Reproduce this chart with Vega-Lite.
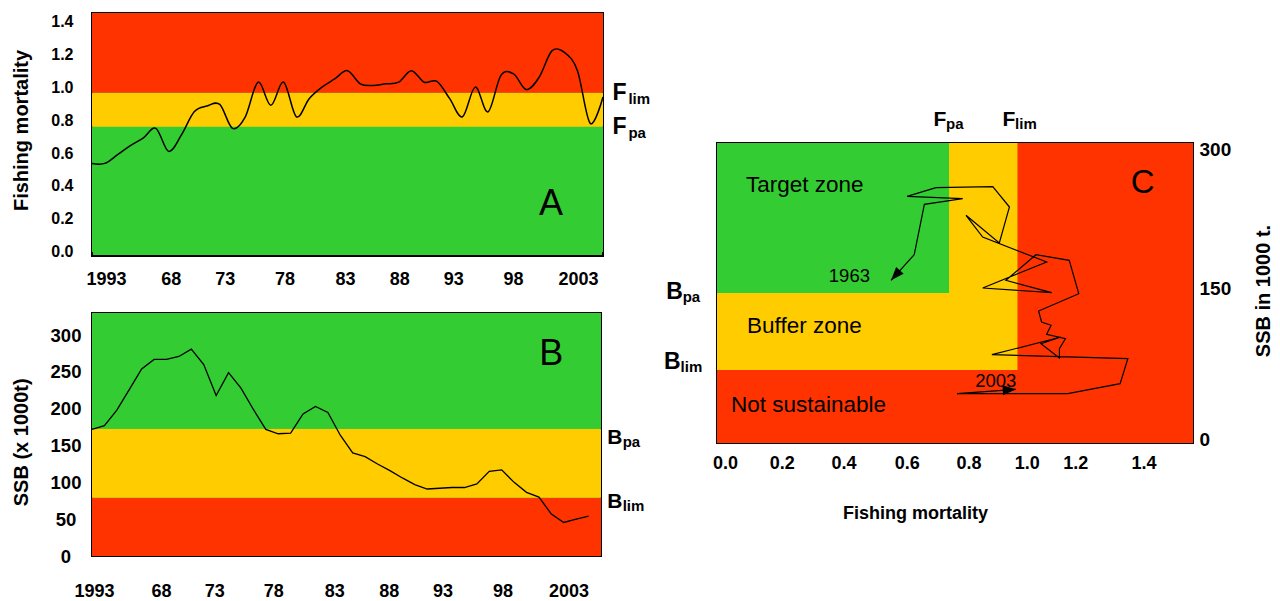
{
  "$schema": "https://vega.github.io/schema/vega-lite/v6.json",
  "padding": {"left": 10, "top": 12, "right": 5, "bottom": 5},
  "background": "white",
  "config": {
    "font": "Liberation Sans",
    "view": {"stroke": null},
    "axis": {"labelFont": "Liberation Sans", "labelFontWeight": "bold", "labelColor": "#000", "titleFont": "Liberation Sans", "titleFontWeight": "bold", "titleColor": "#000", "ticks": false, "tickSize": 0, "domain": false, "grid": false, "labelFlush": false, "labelOverlap": false, "labelSeparation": 0},
    "text": {"font": "Liberation Sans", "color": "#000"}
  },
  "datasets": {
    "fmort": [
      {"year": 1963, "F": 0.537}, {"year": 1964, "F": 0.537}, {"year": 1965, "F": 0.59}, {"year": 1966, "F": 0.645},
      {"year": 1967, "F": 0.69}, {"year": 1968, "F": 0.75}, {"year": 1969, "F": 0.61}, {"year": 1970, "F": 0.71},
      {"year": 1971, "F": 0.85}, {"year": 1972, "F": 0.885}, {"year": 1973, "F": 0.895}, {"year": 1974, "F": 0.75},
      {"year": 1975, "F": 0.82}, {"year": 1976, "F": 1.03}, {"year": 1977, "F": 0.89}, {"year": 1978, "F": 1.03},
      {"year": 1979, "F": 0.82}, {"year": 1980, "F": 0.93}, {"year": 1981, "F": 1.0}, {"year": 1982, "F": 1.05},
      {"year": 1983, "F": 1.1}, {"year": 1984, "F": 1.02}, {"year": 1985, "F": 1.01}, {"year": 1986, "F": 1.02},
      {"year": 1987, "F": 1.03}, {"year": 1988, "F": 1.1}, {"year": 1989, "F": 1.03}, {"year": 1990, "F": 1.035},
      {"year": 1991, "F": 0.93}, {"year": 1992, "F": 0.82}, {"year": 1993, "F": 1.0}, {"year": 1994, "F": 0.85},
      {"year": 1995, "F": 1.07}, {"year": 1996, "F": 1.08}, {"year": 1997, "F": 0.985}, {"year": 1998, "F": 1.06},
      {"year": 1999, "F": 1.22}, {"year": 2000, "F": 1.21}, {"year": 2001, "F": 1.1}, {"year": 2002, "F": 0.78},
      {"year": 2003, "F": 0.94}
    ],
    "ssb": [
      {"year": 1963, "SSB": 172}, {"year": 1964, "SSB": 177}, {"year": 1965, "SSB": 198}, {"year": 1966, "SSB": 226},
      {"year": 1967, "SSB": 254}, {"year": 1968, "SSB": 267}, {"year": 1969, "SSB": 267}, {"year": 1970, "SSB": 271},
      {"year": 1971, "SSB": 281}, {"year": 1972, "SSB": 260}, {"year": 1973, "SSB": 218}, {"year": 1974, "SSB": 249},
      {"year": 1975, "SSB": 228}, {"year": 1976, "SSB": 199}, {"year": 1977, "SSB": 172}, {"year": 1978, "SSB": 166},
      {"year": 1979, "SSB": 167}, {"year": 1980, "SSB": 193}, {"year": 1981, "SSB": 203}, {"year": 1982, "SSB": 195},
      {"year": 1983, "SSB": 164}, {"year": 1984, "SSB": 140}, {"year": 1985, "SSB": 135}, {"year": 1986, "SSB": 125},
      {"year": 1987, "SSB": 116}, {"year": 1988, "SSB": 106}, {"year": 1989, "SSB": 97}, {"year": 1990, "SSB": 91},
      {"year": 1991, "SSB": 92}, {"year": 1992, "SSB": 93}, {"year": 1993, "SSB": 93}, {"year": 1994, "SSB": 98},
      {"year": 1995, "SSB": 115}, {"year": 1996, "SSB": 117}, {"year": 1997, "SSB": 100}, {"year": 1998, "SSB": 86.5},
      {"year": 1999, "SSB": 80}, {"year": 2000, "SSB": 57}, {"year": 2001, "SSB": 45.5}, {"year": 2002, "SSB": 50},
      {"year": 2003, "SSB": 54}
    ],
    "zonesA": [
      {"zone": "Target zone", "lo": 0, "hi": 0.76},
      {"zone": "Buffer zone", "lo": 0.76, "hi": 0.966},
      {"zone": "Not sustainable", "lo": 0.966, "hi": 1.45}
    ],
    "zonesB": [
      {"zone": "Not sustainable", "lo": 0, "hi": 79},
      {"zone": "Buffer zone", "lo": 79, "hi": 172.8},
      {"zone": "Target zone", "lo": 172.8, "hi": 330}
    ],
    "zonesC": [
      {"zone": "Not sustainable", "f0": 0, "f1": 1.6, "b0": 0, "b1": 300},
      {"zone": "Buffer zone", "f0": 0, "f1": 1.01, "b0": 73, "b1": 300},
      {"zone": "Target zone", "f0": 0, "f1": 0.78, "b0": 150, "b1": 300}
    ],
    "refsA": [
      {"main": "F", "sub": "lim", "year": 2003.74, "F": 0.92},
      {"main": "F", "sub": "pa", "year": 2003.74, "F": 0.7135}
    ],
    "refsB": [
      {"main": "B", "sub": "pa", "year": 2004.5, "SSB": 152},
      {"main": "B", "sub": "lim", "year": 2004.5, "SSB": 65.6}
    ],
    "refsCtop": [
      {"main": "F", "sub": "pa", "F": 0.728, "SSB": 317},
      {"main": "F", "sub": "lim", "F": 0.96, "SSB": 317}
    ],
    "refsCleft": [
      {"main": "B", "sub": "pa", "F": -0.171, "SSB": 144.3},
      {"main": "B", "sub": "lim", "F": -0.178, "SSB": 73.7}
    ],
    "path": [
      {"i": 1, "F": 0.663, "SSB": 188.3}, {"i": 2, "F": 0.697, "SSB": 238.7}, {"i": 3, "F": 0.826, "SSB": 244.3},
      {"i": 4, "F": 0.639, "SSB": 246.7}, {"i": 5, "F": 0.736, "SSB": 255.3}, {"i": 6, "F": 0.927, "SSB": 256.3},
      {"i": 7, "F": 0.983, "SSB": 236}, {"i": 8, "F": 0.949, "SSB": 200}, {"i": 9, "F": 0.837, "SSB": 227.7},
      {"i": 10, "F": 0.893, "SSB": 206}, {"i": 11, "F": 1.108, "SSB": 181}, {"i": 12, "F": 0.893, "SSB": 155},
      {"i": 13, "F": 1.125, "SSB": 150.3}, {"i": 14, "F": 0.971, "SSB": 162.7}, {"i": 15, "F": 1.072, "SSB": 188.3},
      {"i": 16, "F": 1.184, "SSB": 182.7}, {"i": 17, "F": 1.216, "SSB": 149.3}, {"i": 18, "F": 1.081, "SSB": 132},
      {"i": 19, "F": 1.091, "SSB": 121}, {"i": 20, "F": 1.123, "SSB": 117.7}, {"i": 21, "F": 1.108, "SSB": 108.7},
      {"i": 22, "F": 1.171, "SSB": 104.3}, {"i": 23, "F": 1.151, "SSB": 94.3}, {"i": 24, "F": 1.151, "SSB": 85},
      {"i": 25, "F": 1.089, "SSB": 99.3}, {"i": 26, "F": 1.156, "SSB": 106}, {"i": 27, "F": 0.924, "SSB": 88.3},
      {"i": 28, "F": 1.381, "SSB": 84.3}, {"i": 29, "F": 1.355, "SSB": 59.3}, {"i": 30, "F": 1.179, "SSB": 49.3},
      {"i": 31, "F": 0.807, "SSB": 49.3}
    ],
    "arrows": [
      {"label": "1963", "F": 0.663, "SSB": 188.3, "F2": 0.585, "SSB2": 162.7},
      {"label": "2003", "F": 0.807, "SSB": 49.3, "F2": 1.005, "SSB2": 53.7}
    ],
    "yearLabels": [
      {"text": "1963", "F": 0.445, "SSB": 167},
      {"text": "2003", "F": 0.937, "SSB": 62}
    ],
    "zoneLabels": [
      {"text": "Target zone", "F": 0.0975, "SSB": 257.7},
      {"text": "Buffer zone", "F": 0.101, "SSB": 117},
      {"text": "Not sustainable", "F": 0.047, "SSB": 37.7}
    ]
  },
  "spacing": 11,
  "hconcat": [
    {
      "spacing": 23,
      "vconcat": [
        {
          "width": 511,
          "height": 243,
          "view": {"fill": "#33CC33", "stroke": "#000", "strokeWidth": 2},
          "layer": [
            {
              "data": {"name": "zonesA"},
              "mark": {"type": "rect"},
              "encoding": {
                "y": {
                  "field": "lo", "type": "quantitative", "scale": {"domain": [-0.025, 1.45], "nice": false}, "title": "Fishing mortality",
                  "axis": {
                    "values": [0, 0.2, 0.4, 0.6, 0.8, 1.0, 1.2, 1.4], "tickCount": 10, "format": ".1f",
                    "labelFontSize": 16, "labelPadding": 19,
                    "titleFontSize": 20, "titleX": -71, "titleY": 117, "titleBaseline": "middle", "titleAngle": 270
                  }
                },
                "y2": {"field": "hi"},
                "color": {"field": "zone", "type": "nominal", "scale": {"domain": ["Target zone", "Buffer zone", "Not sustainable"], "range": ["#33CC33", "#FFCC00", "#FF3300"]}, "legend": null}
              }
            },
            {
              "data": {"name": "fmort"},
              "mark": {"type": "line", "interpolate": "cardinal", "color": "#000", "strokeWidth": 1.5},
              "encoding": {
                "x": {
                  "field": "year", "type": "quantitative", "title": null,
                  "scale": {"domain": [1963, 2003], "nice": false},
                  "axis": {
                    "values": [1963, 1968, 1973, 1978, 1983, 1988, 1993, 1998, 2003], "tickCount": 12,
                    "labelExpr": "datum.value == 1963 ? '1993' : datum.value == 2003 ? '2003' : format(datum.value % 100, '02d')",
                    "labelFontSize": 18, "labelPadding": 14,
                    "labelOffset": {"condition": [
                      {"test": "datum.value == 1963", "value": 14},
                      {"test": "datum.value == 1968", "value": 15},
                      {"test": "datum.value == 1973", "value": 5},
                      {"test": "datum.value == 1978", "value": 1},
                      {"test": "datum.value == 1983", "value": -2.5},
                      {"test": "datum.value == 1988", "value": -12},
                      {"test": "datum.value == 1993", "value": -22},
                      {"test": "datum.value == 1998", "value": -26},
                      {"test": "datum.value == 2003", "value": -25}
                    ], "value": 0}
                  }
                },
                "y": {
                  "field": "F", "type": "quantitative", "title": "Fishing mortality", "scale": {"domain": [-0.025, 1.45], "nice": false},
                  "axis": {
                    "values": [0, 0.2, 0.4, 0.6, 0.8, 1.0, 1.2, 1.4], "tickCount": 10, "format": ".1f",
                    "labelFontSize": 16, "labelPadding": 19,
                    "titleFontSize": 20, "titleX": -71, "titleY": 117, "titleBaseline": "middle", "titleAngle": 270
                  }
                }
              }
            },
            {
              "data": {"values": [{"panel": "A", "year": 1998.93, "F": 0.288}]},
              "mark": {"type": "text", "fontSize": 36, "align": "center", "baseline": "middle"},
              "encoding": {
                "x": {"field": "year", "type": "quantitative", "title": null, "scale": {"domain": [1963, 2003], "nice": false}},
                "y": {"field": "F", "type": "quantitative", "title": "Fishing mortality", "scale": {"domain": [-0.025, 1.45], "nice": false}},
                "text": {"field": "panel"}
              }
            },
            {
              "data": {"name": "refsA"},
              "mark": {"type": "text", "fontSize": 23, "fontWeight": "bold", "align": "left", "baseline": "alphabetic"},
              "encoding": {
                "x": {"field": "year", "type": "quantitative", "title": null, "scale": {"domain": [1963, 2003], "nice": false}},
                "y": {"field": "F", "type": "quantitative", "title": "Fishing mortality", "scale": {"domain": [-0.025, 1.45], "nice": false}},
                "text": {"field": "main"}
              }
            },
            {
              "data": {"name": "refsA"},
              "mark": {"type": "text", "fontSize": 15, "fontWeight": "bold", "align": "left", "baseline": "alphabetic", "dx": 16, "dy": 4},
              "encoding": {
                "x": {"field": "year", "type": "quantitative", "title": null, "scale": {"domain": [1963, 2003], "nice": false}},
                "y": {"field": "F", "type": "quantitative", "title": "Fishing mortality", "scale": {"domain": [-0.025, 1.45], "nice": false}},
                "text": {"field": "sub"}
              }
            }
          ]
        },
        {
          "width": 509,
          "height": 243,
          "view": {"fill": "#33CC33", "stroke": "#000", "strokeWidth": 2},
          "layer": [
            {
              "data": {"name": "zonesB"},
              "mark": {"type": "rect"},
              "encoding": {
                "y": {
                  "field": "lo", "type": "quantitative", "scale": {"domain": [0, 330], "nice": false}, "title": "SSB (x 1000t)",
                  "axis": {
                    "values": [0, 50, 100, 150, 200, 250, 300], "tickCount": 10,
                    "labelFontSize": 18.5, "labelPadding": 26.5, "labelAlign": "center",
                    "titleFontSize": 20, "titleX": -71, "titleY": 128.8, "titleBaseline": "middle", "titleAngle": 270
                  }
                },
                "y2": {"field": "hi"},
                "color": {"field": "zone", "type": "nominal", "scale": {"domain": ["Target zone", "Buffer zone", "Not sustainable"], "range": ["#33CC33", "#FFCC00", "#FF3300"]}, "legend": null}
              }
            },
            {
              "data": {"name": "ssb"},
              "mark": {"type": "line", "color": "#000", "strokeWidth": 1.3},
              "encoding": {
                "x": {
                  "field": "year", "type": "quantitative", "title": null,
                  "scale": {"domain": [1963, 2004], "nice": false},
                  "axis": {
                    "values": [1963, 1968, 1973, 1978, 1983, 1988, 1993, 1998, 2003], "tickCount": 12,
                    "labelExpr": "datum.value == 1963 ? '1993' : datum.value == 2003 ? '2003' : format(datum.value % 100, '02d')",
                    "labelFontSize": 18, "labelPadding": 26,
                    "labelOffset": {"condition": [
                      {"test": "datum.value == 1963", "value": 2},
                      {"test": "datum.value == 1968", "value": 7},
                      {"test": "datum.value == 1973", "value": -2},
                      {"test": "datum.value == 1978", "value": -5},
                      {"test": "datum.value == 1983", "value": -6},
                      {"test": "datum.value == 1988", "value": -13.5},
                      {"test": "datum.value == 1993", "value": -22},
                      {"test": "datum.value == 1998", "value": -24},
                      {"test": "datum.value == 2003", "value": -20}
                    ], "value": 0}
                  }
                },
                "y": {"field": "SSB", "type": "quantitative", "title": "SSB (x 1000t)", "scale": {"domain": [0, 330], "nice": false}}
              }
            },
            {
              "data": {"values": [{"panel": "B", "year": 2000, "SSB": 273.9}]},
              "mark": {"type": "text", "fontSize": 36, "align": "center", "baseline": "middle"},
              "encoding": {
                "x": {"field": "year", "type": "quantitative", "title": null, "scale": {"domain": [1963, 2004], "nice": false}},
                "y": {"field": "SSB", "type": "quantitative", "title": "SSB (x 1000t)", "scale": {"domain": [0, 330], "nice": false}},
                "text": {"field": "panel"}
              }
            },
            {
              "data": {"name": "refsB"},
              "mark": {"type": "text", "fontSize": 21, "fontWeight": "bold", "align": "left", "baseline": "alphabetic"},
              "encoding": {
                "x": {"field": "year", "type": "quantitative", "title": null, "scale": {"domain": [1963, 2004], "nice": false}},
                "y": {"field": "SSB", "type": "quantitative", "title": "SSB (x 1000t)", "scale": {"domain": [0, 330], "nice": false}},
                "text": {"field": "main"}
              }
            },
            {
              "data": {"name": "refsB"},
              "mark": {"type": "text", "fontSize": 15, "fontWeight": "bold", "align": "left", "baseline": "alphabetic", "dx": 15.5, "dy": 3},
              "encoding": {
                "x": {"field": "year", "type": "quantitative", "title": null, "scale": {"domain": [1963, 2004], "nice": false}},
                "y": {"field": "SSB", "type": "quantitative", "title": "SSB (x 1000t)", "scale": {"domain": [0, 330], "nice": false}},
                "text": {"field": "sub"}
              }
            }
          ]
        }
      ]
    },
    {
      "spacing": 0,
      "vconcat": [
        {
          "width": 476,
          "height": 95,
          "data": {"values": []},
          "mark": "point"
        },
        {
          "width": 476,
          "height": 300,
          "view": {"fill": "#FF3300", "stroke": "#000", "strokeWidth": 2},
          "layer": [
            {
              "data": {"name": "zonesC"},
              "mark": {"type": "rect"},
              "encoding": {
                "x": {
                  "field": "f0", "type": "quantitative", "scale": {"domain": [0, 1.6], "nice": false}, "title": "Fishing mortality",
                  "axis": {
                    "values": [0, 0.2, 0.4, 0.6, 0.8, 1.0, 1.2, 1.4], "tickCount": 12, "format": ".1f",
                    "labelFontSize": 18, "labelPadding": 11.5,
                    "labelOffset": {"condition": [
                      {"test": "datum.value == 0", "value": 8},
                      {"test": "datum.value == 0.2", "value": 5.3},
                      {"test": "datum.value == 0.4", "value": 7.5},
                      {"test": "datum.value == 0.6", "value": 11.3},
                      {"test": "datum.value == 0.8", "value": 13.5},
                      {"test": "datum.value == 1", "value": 12.3},
                      {"test": "datum.value == 1.2", "value": 1.2},
                      {"test": "datum.value == 1.4", "value": 10}
                    ], "value": 0},
                    "titleFontSize": 18, "titleX": 198, "titleY": 70.7, "titleBaseline": "middle"
                  }
                },
                "x2": {"field": "f1"},
                "y": {
                  "field": "b0", "type": "quantitative", "scale": {"domain": [0, 300], "nice": false}, "title": "SSB in 1000 t.",
                  "axis": {
                    "orient": "right",
                    "values": [0, 150, 300], "tickCount": 10,
                    "labelFontSize": 19, "labelPadding": 6, "labelAlign": "left",
                    "labelOffset": {"condition": [
                      {"test": "datum.value == 300", "value": 6},
                      {"test": "datum.value == 150", "value": -5},
                      {"test": "datum.value == 0", "value": -4}
                    ], "value": 0},
                    "titleFontSize": 20, "titleAngle": 270, "titleX": 70, "titleY": 147.5, "titleBaseline": "middle"
                  }
                },
                "y2": {"field": "b1"},
                "color": {"field": "zone", "type": "nominal", "scale": {"domain": ["Target zone", "Buffer zone", "Not sustainable"], "range": ["#33CC33", "#FFCC00", "#FF3300"]}, "legend": null}
              }
            },
            {
              "data": {"name": "path"},
              "mark": {"type": "line", "color": "#000", "strokeWidth": 1.2},
              "encoding": {
                "x": {"field": "F", "type": "quantitative", "title": "Fishing mortality", "scale": {"domain": [0, 1.6], "nice": false}},
                "y": {"field": "SSB", "type": "quantitative", "title": "SSB in 1000 t.", "scale": {"domain": [0, 300], "nice": false}},
                "order": {"field": "i", "type": "quantitative"}
              }
            },
            {
              "data": {"name": "arrows"},
              "mark": {"type": "rule", "color": "#000", "strokeWidth": 1.2},
              "encoding": {
                "x": {"field": "F", "type": "quantitative", "title": "Fishing mortality", "scale": {"domain": [0, 1.6], "nice": false}},
                "y": {"field": "SSB", "type": "quantitative", "title": "SSB in 1000 t.", "scale": {"domain": [0, 300], "nice": false}},
                "x2": {"field": "F2"},
                "y2": {"field": "SSB2"}
              }
            },
            {
              "data": {"name": "arrows"},
              "mark": {"type": "point", "shape": "M0,0L-0.38,1L0.38,1Z", "filled": true, "color": "#000", "opacity": 1, "size": 700},
              "encoding": {
                "x": {"field": "F2", "type": "quantitative", "title": "Fishing mortality", "scale": {"domain": [0, 1.6], "nice": false}},
                "y": {"field": "SSB2", "type": "quantitative", "title": "SSB in 1000 t.", "scale": {"domain": [0, 300], "nice": false}},
                "angle": {"condition": {"test": "datum.label == '1963'", "value": 222}, "value": 86}
              }
            },
            {
              "data": {"name": "yearLabels"},
              "mark": {"type": "text", "fontSize": 18.5, "align": "center", "baseline": "middle"},
              "encoding": {
                "x": {"field": "F", "type": "quantitative", "title": "Fishing mortality", "scale": {"domain": [0, 1.6], "nice": false}},
                "y": {"field": "SSB", "type": "quantitative", "title": "SSB in 1000 t.", "scale": {"domain": [0, 300], "nice": false}},
                "text": {"field": "text"}
              }
            },
            {
              "data": {"name": "zoneLabels"},
              "mark": {"type": "text", "fontSize": 22.5, "align": "left", "baseline": "middle"},
              "encoding": {
                "x": {"field": "F", "type": "quantitative", "title": "Fishing mortality", "scale": {"domain": [0, 1.6], "nice": false}},
                "y": {"field": "SSB", "type": "quantitative", "title": "SSB in 1000 t.", "scale": {"domain": [0, 300], "nice": false}},
                "text": {"field": "text"}
              }
            },
            {
              "data": {"values": [{"panel": "C", "F": 1.431, "SSB": 260}]},
              "mark": {"type": "text", "fontSize": 33, "align": "center", "baseline": "middle"},
              "encoding": {
                "x": {"field": "F", "type": "quantitative", "title": "Fishing mortality", "scale": {"domain": [0, 1.6], "nice": false}},
                "y": {"field": "SSB", "type": "quantitative", "title": "SSB in 1000 t.", "scale": {"domain": [0, 300], "nice": false}},
                "text": {"field": "panel"}
              }
            },
            {
              "data": {"name": "refsCtop"},
              "mark": {"type": "text", "fontSize": 21, "fontWeight": "bold", "align": "left", "baseline": "alphabetic"},
              "encoding": {
                "x": {"field": "F", "type": "quantitative", "title": "Fishing mortality", "scale": {"domain": [0, 1.6], "nice": false}},
                "y": {"field": "SSB", "type": "quantitative", "title": "SSB in 1000 t.", "scale": {"domain": [0, 300], "nice": false}},
                "text": {"field": "main"}
              }
            },
            {
              "data": {"name": "refsCtop"},
              "mark": {"type": "text", "fontSize": 15, "fontWeight": "bold", "align": "left", "baseline": "alphabetic", "dx": 12.5, "dy": 3},
              "encoding": {
                "x": {"field": "F", "type": "quantitative", "title": "Fishing mortality", "scale": {"domain": [0, 1.6], "nice": false}},
                "y": {"field": "SSB", "type": "quantitative", "title": "SSB in 1000 t.", "scale": {"domain": [0, 300], "nice": false}},
                "text": {"field": "sub"}
              }
            },
            {
              "data": {"name": "refsCleft"},
              "mark": {"type": "text", "fontSize": 23, "fontWeight": "bold", "align": "left", "baseline": "alphabetic"},
              "encoding": {
                "x": {"field": "F", "type": "quantitative", "title": "Fishing mortality", "scale": {"domain": [0, 1.6], "nice": false}},
                "y": {"field": "SSB", "type": "quantitative", "title": "SSB in 1000 t.", "scale": {"domain": [0, 300], "nice": false}},
                "text": {"field": "main"}
              }
            },
            {
              "data": {"name": "refsCleft"},
              "mark": {"type": "text", "fontSize": 15, "fontWeight": "bold", "align": "left", "baseline": "alphabetic", "dx": 16.5, "dy": 3},
              "encoding": {
                "x": {"field": "F", "type": "quantitative", "title": "Fishing mortality", "scale": {"domain": [0, 1.6], "nice": false}},
                "y": {"field": "SSB", "type": "quantitative", "title": "SSB in 1000 t.", "scale": {"domain": [0, 300], "nice": false}},
                "text": {"field": "sub"}
              }
            }
          ]
        }
      ]
    }
  ]
}
